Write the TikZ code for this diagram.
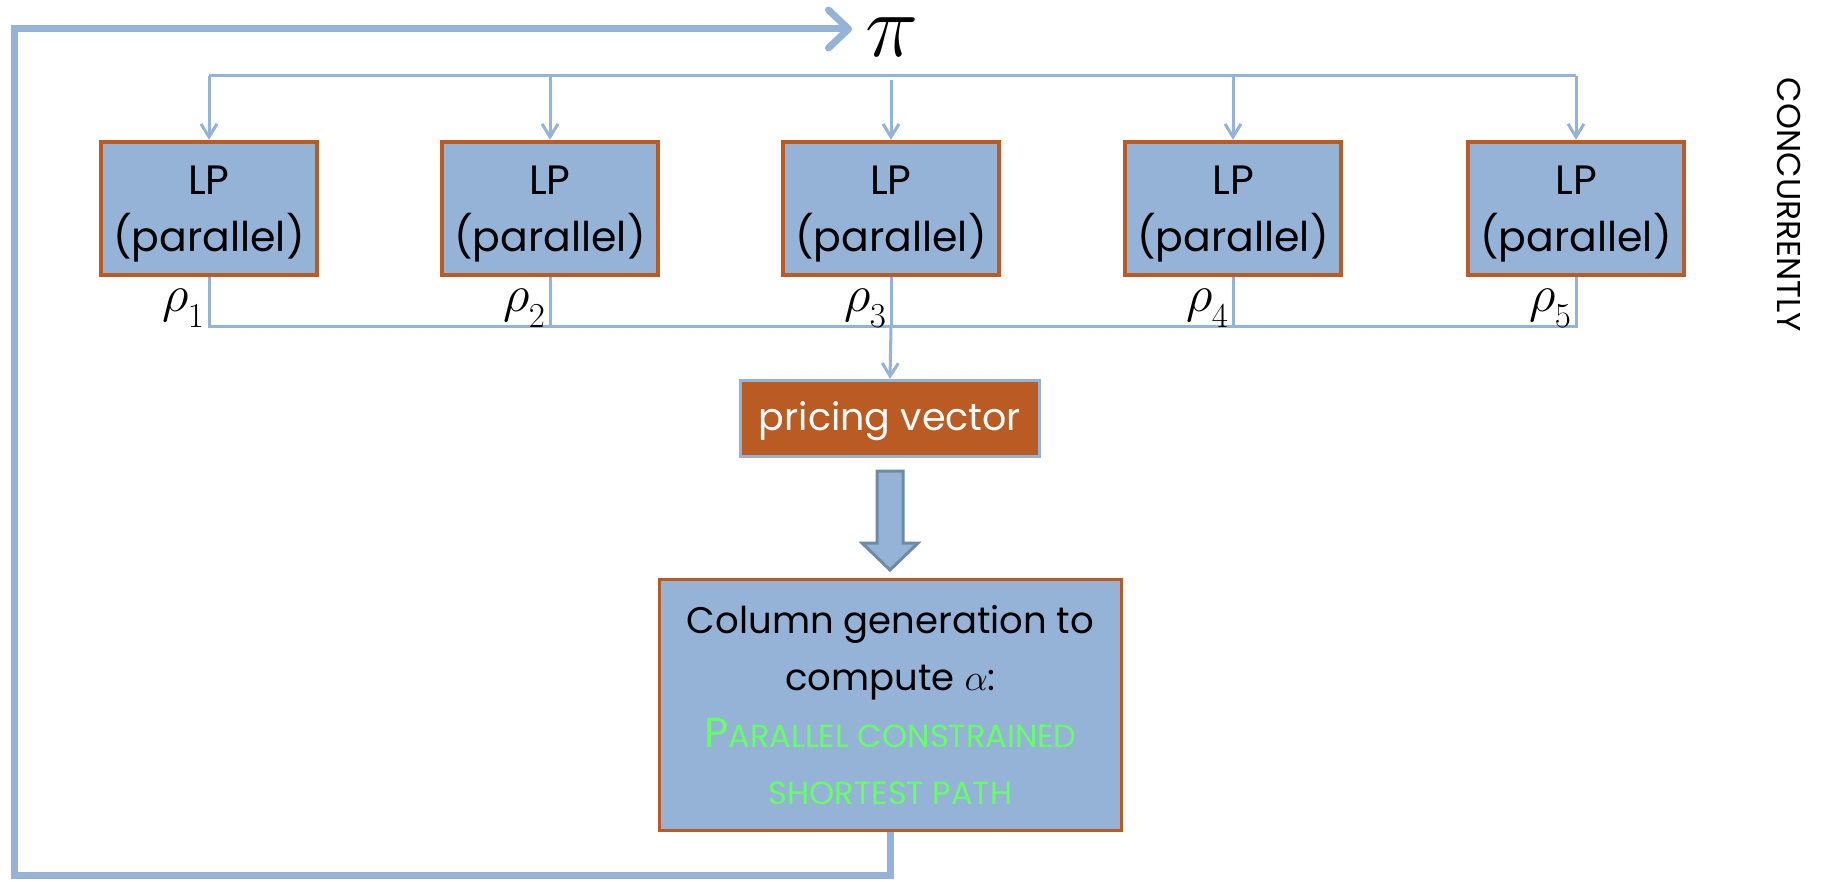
\RequirePackage{fix-cm}
\documentclass[tikz,border=0pt]{standalone}
\usepackage{fontspec}
\setmainfont{Poppins}
\usetikzlibrary{arrows.meta}
\definecolor{boxblue}{HTML}{95B3D7}
\definecolor{rust}{HTML}{B95B23}
\definecolor{arrowedge}{HTML}{6E8BA6}
\definecolor{pathgreen}{HTML}{66FF66}

\tikzset{
  lpbox/.style={draw=rust, fill=boxblue, line width=4.5pt, minimum width=216pt,
    minimum height=133pt, inner sep=0pt, align=center, text depth=0pt,
    font=\fontsize{41}{57}\selectfont},
  wire/.style={draw=boxblue, line width=3pt},
  wirearrow/.style={wire, -{Straight Barb[length=13pt,width=16pt]}},
  loopline/.style={draw=boxblue, line width=7pt,
    -{Straight Barb[length=20pt,width=38pt,round]}},
  rholabel/.style={inner sep=0pt, anchor=base east,
    font=\fontsize{52}{52}\selectfont},
}

\newcommand{\rhosub}[1]{$\rho$\kern-1pt\raisebox{-16pt}{\fontsize{35}{35}\selectfont$#1$}}

\begin{document}
\begin{tikzpicture}[x=1pt,y=-1pt]
  \useasboundingbox (0,0) rectangle (1825,882);
  \fill[white] (0,0) rectangle (1825,882);

  % price vector pi at the top
  \node[inner sep=0pt, font=\fontsize{90}{90}\selectfont] (pi) at (892,37) {$\pi$};

  % the five LP solvers
  \foreach \i/\x in {1/209,2/550,3/891,4/1233,5/1576}{
    \node[lpbox] (lp\i) at (\x,208.5) {LP\\(parallel)};
  }

  % distribution bus from pi to the solvers
  \coordinate (bus) at (891,76);
  \draw[wire] (bus -| lp1.north) -- (bus -| lp5.north);
  \foreach \i in {1,2,4,5}{
    \draw[wirearrow] (bus -| lp\i.north) -- (lp\i.north);
  }
  \draw[wirearrow] ([yshift=-4pt]bus) -- (lp3.north);

  % collecting bus for the duals rho
  \coordinate (rbus) at (891,327);
  \draw[wire] (lp1.south) -- (lp1.south |- rbus) -- (lp5.south |- rbus) -- (lp5.south);
  \foreach \i in {2,3,4}{
    \draw[wire] (lp\i.south) -- (lp\i.south |- rbus);
  }

  % rho labels
  \foreach \i/\x in {1/204,2/545,3/886,4/1228,5/1571}{
    \node[rholabel] (rho\i) at (\x,312) {\rhosub{\i}};
  }

  % pricing vector
  \node[draw=boxblue, fill=rust, line width=3pt, minimum width=299pt,
        minimum height=76pt, inner sep=0pt, text=white, text depth=4pt,
        font=\fontsize{38}{38}\selectfont] (pv) at (890,418.5) {pricing vector};
  \draw[wirearrow] (rbus) -- (pv.north);

  % block arrow down to column generation
  \draw[fill=boxblue, draw=arrowedge, line width=3pt, line join=miter]
    (877,471) -- (903,471) -- (903,543) -- (918,543) -- (890,570)
    -- (862,543) -- (877,543) -- cycle;

  % column generation box
  \node[draw=rust, fill=boxblue, line width=3pt, minimum width=462pt,
        minimum height=251pt, inner sep=0pt, align=center,
        font=\fontsize{37}{57}\selectfont] (col) at (890.5,705)
    {Column generation to\\
     compute $\alpha$:\\
     {\color{pathgreen}\fontsize{42}{57}\selectfont P\fontsize{32}{57}\selectfont ARALLEL CONSTRAINED}\\
     {\color{pathgreen}\fontsize{32}{57}\selectfont SHORTEST PATH}};

  % feedback loop back to pi
  \coordinate (loopbl) at (14,875);
  \coordinate (loopend) at (852,29);
  \draw[loopline] (col.south) |- (loopbl) |- (loopend);

  % side label
  \node[rotate=-90, inner sep=0pt, font=\fontsize{33}{33}\selectfont] (conc) at (1789,205) {CONCURRENTLY};
\end{tikzpicture}
\end{document}
